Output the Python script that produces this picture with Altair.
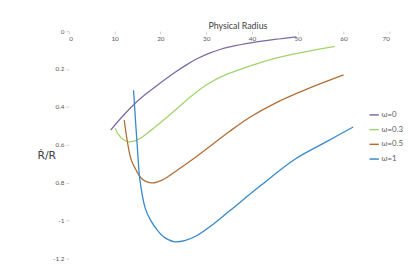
import altair as alt
import pandas as pd

# ---- data ----
series_names = ["ω=0", "ω=0.3", "ω=0.5", "ω=1"]
series_colors = ["#7b6aa3", "#a3d46c", "#b06f35", "#3589c9"]

w0_x = [9.15, 11.8, 14.4, 17.1, 19.9, 22.9, 25.7, 28.0, 30.6, 33.0, 35.4, 40.1, 45.0, 49.7]
w0_y = [-0.522, -0.448, -0.383, -0.327, -0.275, -0.222, -0.178, -0.146, -0.117, -0.097, -0.082, -0.061, -0.044, -0.030]

w03_x = [10.1, 10.9, 11.8, 13.1, 15.0, 17.0, 19.3, 21.5, 23.6, 27.0, 30.7, 34.3, 37.9, 41.5, 45.0, 48.5, 52.1, 55.0, 58.1]
w03_y = [-0.513, -0.548, -0.571, -0.584, -0.574, -0.541, -0.497, -0.453, -0.410, -0.338, -0.274, -0.230, -0.198, -0.169, -0.144, -0.124, -0.107, -0.094, -0.081]

w05_x = [12.1, 13.6, 14.6, 16.0, 18.2, 20.5, 23.9, 27.9, 31.5, 35.0, 39.3, 45.0, 52.1, 60.0]
w05_y = [-0.470, -0.677, -0.729, -0.780, -0.801, -0.785, -0.730, -0.661, -0.595, -0.531, -0.458, -0.381, -0.305, -0.231]

w1_x = [14.14, 15.15, 15.5, 16.7, 17.85, 19.3, 20.7, 22.9, 25.3, 27.9, 31.5, 35.0, 42.1, 49.3, 56.4, 62.1]
w1_y = [-0.312, -0.677, -0.780, -0.935, -0.997, -1.049, -1.085, -1.111, -1.106, -1.080, -1.020, -0.951, -0.811, -0.677, -0.582, -0.506]

x_ticks = [0, 10, 20, 30, 40, 50, 60, 70]
y_ticks = [0, -0.2, -0.4, -0.6, -0.8, -1.0, -1.2]
y_tick_labels = ["0", "0.2", "0.4", "0.6", "0.8", "-1", "-1.2"]

rows = []
for name, xs, ys in zip(series_names, [w0_x, w03_x, w05_x, w1_x], [w0_y, w03_y, w05_y, w1_y]):
    for xv, yv in zip(xs, ys):
        rows.append({"r": xv, "v": yv, "s": name})
df = pd.DataFrame(rows)

# label expression built from tick lists
expr = "''"
for v, lab in zip(reversed(y_ticks), reversed(y_tick_labels)):
    expr = f"round(datum.value*10)=={int(round(v*10))} ? '{lab}' : ({expr})"

W, H = 327, 232

chart = alt.Chart(df).mark_line(strokeWidth=1.3, interpolate="catmull-rom").encode(
    x=alt.X("r:Q", scale=alt.Scale(domain=[0, 70], nice=False),
            axis=alt.Axis(orient="bottom", offset=-H, values=x_ticks, grid=False,
                          title="Physical Radius", titleX=172, titleY=-3,
                          titleBaseline="alphabetic", titleAlign="center",
                          titleFontSize=9, titleFontWeight="normal", titleColor="#404040",
                          titleFont="Lato",
                          labelFontSize=6.5, labelColor="#595959", labelFont="Lato",
                          tickSize=3, tickColor="#d0d0d0", domain=False,
                          labelPadding=2)),
    y=alt.Y("v:Q", scale=alt.Scale(domain=[-1.2, 0], nice=False),
            axis=alt.Axis(values=y_ticks, grid=False, labelExpr=expr,
                          title="Ṙ/R", titleAngle=0, titleX=-23, titleY=127,
                          titleAlign="center", titleBaseline="middle",
                          titleFontSize=11, titleFontWeight="normal", titleColor="#404040",
                          titleFont="DejaVu Sans",
                          labelFontSize=6.5, labelColor="#595959", labelFont="Lato",
                          tickSize=3, tickColor="#d0d0d0", domain=False,
                          labelPadding=2)),
    color=alt.Color("s:N", sort=series_names,
                    scale=alt.Scale(domain=series_names, range=series_colors),
                    legend=alt.Legend(orient="none", legendX=306, legendY=80, title=None,
                                      symbolType="stroke", symbolSize=90, symbolStrokeWidth=1.5,
                                      labelFontSize=8, labelColor="#595959", labelFont="Lato",
                                      rowPadding=5, labelOffset=2)),
).properties(
    width=W, height=H,
    autosize=alt.AutoSizeParams(type="none"),
    padding={"left": 62, "top": 21, "right": 18, "bottom": 4},
    background="white",
).configure_view(stroke=None)

chart.save("out.html", embed_options={"renderer": "svg", "actions": False})
